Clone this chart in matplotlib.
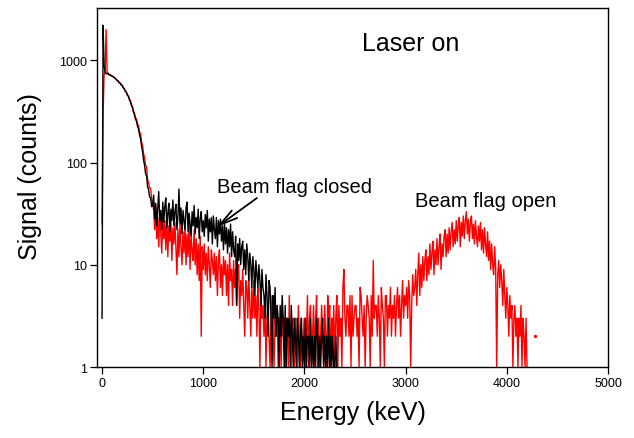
import numpy as np
import matplotlib
matplotlib.use("Agg")
import matplotlib.pyplot as plt
from matplotlib.ticker import FixedLocator, NullLocator, FixedFormatter

plt.rcParams["font.family"] = ["Liberation Sans", "DejaVu Sans"]

# spectra, 10 keV bins starting at 0 keV
bin_width = 10

closed_counts = [
    3, 2200, 900, 760, 742, 735, 748, 722, 726, 708,
    702, 688, 684, 662, 655, 630, 624, 600, 596, 570,
    566, 536, 524, 496, 486, 455, 444, 410, 394, 362,
    344, 312, 294, 266, 254, 226, 214, 186, 172, 146,
    128, 106, 94, 78, 74, 58, 54, 46, 45, 37,
    38,
    48, 28, 40, 24, 36, 52, 27, 34, 22, 41,
    26, 37, 45, 23, 32, 40, 21, 35, 27, 43,
    24, 33, 39, 22, 30, 55, 25, 36, 20, 34,
    27, 22, 36, 41, 21, 32, 25, 19, 33, 24,
    38, 20, 29, 23, 35, 18, 28, 33, 21, 27,
    19, 31, 23, 34, 17, 28, 21, 29, 16, 30,
    22, 18, 29, 15, 27, 20, 28, 17, 24, 14,
    26, 16, 23, 13, 22, 15, 25, 12, 21, 14,
    12, 19, 4, 16, 11, 18, 10, 15, 17, 9,
    14, 8, 16, 12, 7, 13, 10, 6, 12, 9,
    5, 11, 8, 6, 10, 7, 4, 9, 6, 5,
    3, 8, 5, 2, 7, 6, 3, 1, 5, 3,
    6, 2, 4, 3, 1, 4, 2, 5, 3, 1,
    4, 1, 3, 2, 3, 1, 4, 2, 1, 3,
    2, 1, 3, 2, 1, 2, 3, 1, 2, 1,
    3, 1, 2, 2, 1, 3, 1, 2, 1, 2,
    1, 3, 2, 1, 2, 1, 2, 3, 1, 2,
    1, 2, 1, 3, 1, 2, 1, 2, 1, 1,
    2, 1,
]

open_counts = [
    25, 300, 720, 760, 2000, 760, 734, 718, 717, 702,
    698, 686, 677, 662, 652, 636, 628, 606, 598, 576,
    568, 540, 528, 500, 490, 460, 448, 420, 404, 370,
    354, 320, 304, 276, 266, 240, 228, 200, 192, 160,
    148, 122, 112, 94, 90, 68, 64, 56, 56, 44,
    40,
    34, 22, 38, 18, 29, 15, 33, 21, 13, 28,
    18, 27, 14, 31, 12, 24, 17, 28, 11, 23,
    16, 26, 14, 8, 22, 12, 25, 15, 10, 21,
    13, 24, 10, 20, 12, 26, 9, 19, 14, 11,
    22, 10, 18, 8, 16, 7, 19, 2, 15, 9,
    16, 8, 13, 7, 15, 10, 6, 14, 11, 8,
    13, 7, 12, 5, 11, 14, 6, 10, 5, 12,
    8, 11, 5, 10, 4, 13, 7, 9, 4, 11,
    6, 9, 4, 8, 10, 3, 7, 5, 9, 4,
    2, 7, 6, 3, 8, 4, 2, 6, 3, 7,
    3, 5, 2, 6, 4, 1, 5, 3, 4, 2,
    5, 1, 3, 4, 2, 1, 3, 5, 2, 1,
    3, 2, 4, 1, 3, 2, 1, 4, 2, 3,
    1, 2, 3, 1, 5, 2, 1, 3, 2, 1,
    3, 2, 1, 4, 2, 1, 3, 1, 2, 3,
    1, 2, 5, 1, 3, 4, 1, 2, 4, 1,
    3, 5, 1, 3, 1, 2, 4, 2, 1, 4,
    2, 1, 5, 3, 4, 1, 3, 2, 4, 1,
    3, 5, 1, 4, 2, 3, 1, 6, 9, 3,
    2, 4, 4, 2, 5, 1, 5, 2, 3, 4,
    4, 2, 3, 1, 6, 5, 3, 2, 4, 1,
    3, 5, 4, 3, 1, 5, 2, 11, 3, 4,
    4, 2, 5, 3, 1, 6, 4, 3, 1, 5,
    5, 2, 4, 3, 6, 2, 4, 3, 5, 2,
    4, 6, 3, 5, 2, 4, 7, 3, 5, 4,
    6, 3, 7, 5, 1, 4, 8, 5, 6, 9,
    4, 8, 13, 5, 10, 6, 12, 7, 11, 14,
    7, 12, 8, 16, 9, 13, 17, 8, 14, 10,
    18, 10, 15, 20, 9, 16, 12, 19, 22, 12,
    20, 13, 23, 14, 21, 26, 15, 22, 16, 27,
    17, 24, 29, 15, 26, 19, 30, 18, 27, 33,
    20, 28, 17, 26, 30, 18, 25, 16, 27, 19,
    15, 24, 17, 26, 14, 22, 13, 23, 16, 12,
    21, 11, 17, 9, 16, 10, 8, 15, 9, 1,
    8, 11, 6, 10, 7, 4, 9, 5, 3, 6,
    4, 2, 5, 3, 4, 1, 3, 4, 2, 3,
    1, 3, 2, 4, 1, 3, 2, 1, 3, 1,
]

# lone count after the end of the open spectrum
open_tail_energy = [4280]
open_tail_counts = [2]

closed_energy = np.arange(len(closed_counts)) * bin_width
open_energy = np.arange(len(open_counts)) * bin_width

fig = plt.figure(figsize=(6.34, 4.39), dpi=100)
ax = fig.add_axes([0.153, 0.1617, 0.806, 0.818])

ax.plot(open_energy, open_counts, color="#ff0000", lw=1.0)
ax.plot(open_tail_energy, open_tail_counts, color="#ff0000", marker="s", ms=1.2, lw=0)
ax.plot(closed_energy, closed_counts, color="black", lw=1.0)

ax.set_yscale("log")
ax.set_xlim(-50, 5000)
ax.set_ylim(1, 3250)

ax.xaxis.set_major_locator(FixedLocator([0, 1000, 2000, 3000, 4000, 5000]))
ax.yaxis.set_major_locator(FixedLocator([1, 10, 100, 1000]))
ax.yaxis.set_major_formatter(FixedFormatter(["1", "10", "100", "1000"]))
ax.yaxis.set_minor_locator(NullLocator())
ax.tick_params(direction="out", length=5, width=0.9, labelsize=9, pad=2)
for s in ax.spines.values():
    s.set_linewidth(1.0)

ax.set_xlabel("Energy (keV)", fontsize=18, labelpad=8)
ax.set_ylabel("Signal (counts)", fontsize=18)
ax.yaxis.set_label_coords(-0.108, 0.532)

ax.text(2567, 1256, "Laser on", fontsize=18, va="baseline")
ax.text(1135, 51.4, "Beam flag closed", fontsize=14.5, va="baseline")
ax.text(3090, 37.5, "Beam flag open", fontsize=14.5, va="baseline")
ax.annotate("", xy=(1135, 23.4), xytext=(1530, 44.9),
            arrowprops=dict(arrowstyle="->,head_length=1.3,head_width=0.33",
                            lw=1.3, color="black", shrinkA=0, shrinkB=0))

plt.savefig("out.png", dpi=100)
